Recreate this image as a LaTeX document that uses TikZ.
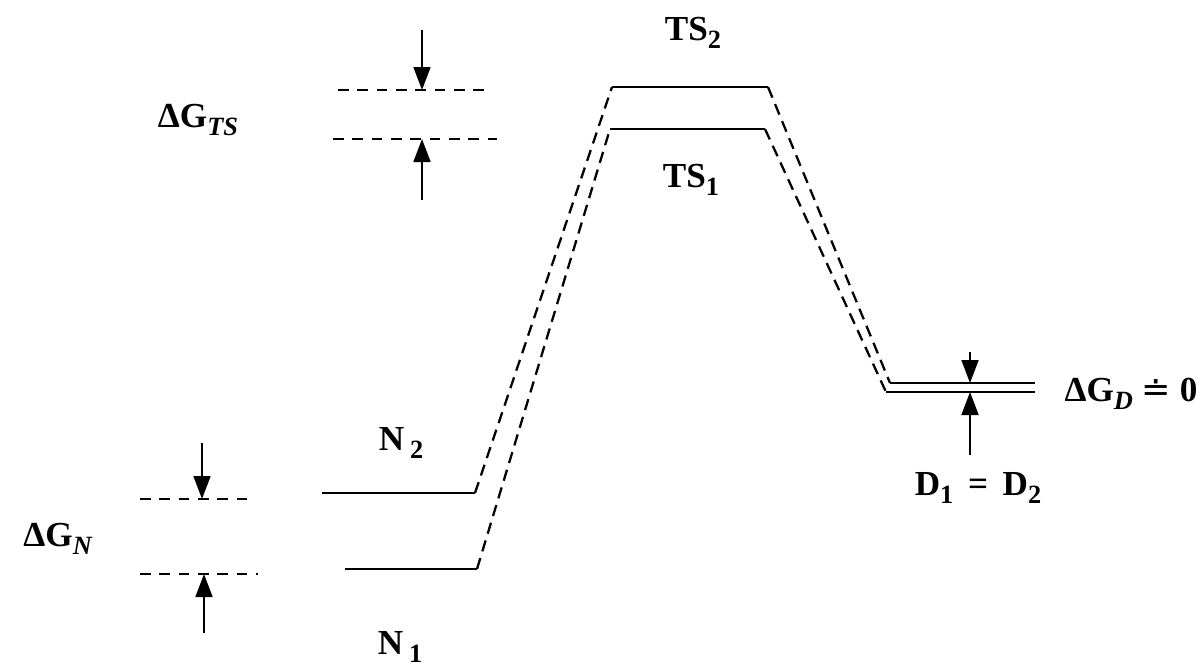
\documentclass[tikz,border=0pt]{standalone}
\usepackage{fontspec}
\setmainfont{Liberation Serif}
\newfontfamily\symfont{DejaVu Sans}
\usepackage{tikz}
\usetikzlibrary{arrows.meta, positioning}
\newcommand{\lowsub}[1]{\raisebox{-0.5ex}{\fontsize{15}{16}\selectfont #1}}
\tikzset{
  level/.style={
    line width=1.2pt
  },
  link/.style={
    line width=1.3pt,
    dash pattern=on 6.5pt off 4pt
  },
  guide/.style={
    line width=0.8pt,
    dash pattern=on 6pt off 5pt
  },
  arrow/.style={
    -{Triangle[length=4.6mm,width=3.4mm]},
    line width=1pt
  },
  lab/.style={
    font=\fontsize{20}{23}\selectfont\bfseries,
    inner sep=0pt
  }
}

\begin{document}
\begin{tikzpicture}[x=0.02cm, y=-0.02cm]
  \useasboundingbox (0,0) rectangle (1202,670);

  % Niveaux
  \coordinate (n2l) at (322,493);  \coordinate (n2r) at (475,493);
  \coordinate (n1l) at (345,569);  \coordinate (n1r) at (477,569);
  \coordinate (ts2l) at (612,87);  \coordinate (ts2r) at (768,87);
  \coordinate (ts1l) at (610,129); \coordinate (ts1r) at (765,129);
  \coordinate (d2l) at (890,383);  \coordinate (d2r) at (1035,383);
  \coordinate (d1l) at (886,392);  \coordinate (d1r) at (1035,392);

  \draw[level] (n2l) -- (n2r);
  \draw[level] (n1l) -- (n1r);
  \draw[level] (ts2l) -- (ts2r);
  \draw[level] (ts1l) -- (ts1r);
  \draw[level] (d2l) -- (d2r);
  \draw[level] (d1l) -- (d1r);

  % Chemins
  \draw[link] (n2r) -- (ts2l);
  \draw[link] (n1r) -- (ts1l);
  \draw[link] (ts2r) -- (d2l);
  \draw[link] (ts1r) -- (d1l);

  % Etiquettes
  \node[lab] (ts2) at (693,33) {TS\lowsub{2}};
  \node[lab] (ts1) at (691,180) {TS\lowsub{1}};
  \node[lab] (n2) at (401,443) {N\,\lowsub{2}};
  \node[lab] (n1) at (400,647) {N\,\lowsub{1}};
  \node[lab] (dd) at (978,488) {D\lowsub{1}\, = \,D\lowsub{2}};
  \node[lab] (dgd) at (1131,394) {ΔG\lowsub{\textit{D}} {\symfont\mdseries ≐} 0};
  \node[lab] (dgts) at (198,120) {ΔG\lowsub{\textit{TS}}};
  \node[lab] (dgn) at (58,539) {ΔG\lowsub{\textit{N}}};

  % Ecarts TS
  \coordinate (gts2l) at (338,90);  \coordinate (gts2r) at (492,90);
  \coordinate (gts1l) at (333,139); \coordinate (gts1r) at (497,139);
  \draw[guide] (gts2l) -- (gts2r);
  \draw[guide] (gts1l) -- (gts1r);
  \coordinate (ats2) at (422,30);  \coordinate (bts2) at (422,90);
  \coordinate (ats1) at (422,200); \coordinate (bts1) at (422,139);
  \draw[arrow] (ats2) -- (bts2);
  \draw[arrow] (ats1) -- (bts1);

  % Ecarts N
  \coordinate (gn2l) at (140,499); \coordinate (gn2r) at (250,499);
  \coordinate (gn1l) at (140,574); \coordinate (gn1r) at (258,574);
  \draw[guide] (gn2l) -- (gn2r);
  \draw[guide] (gn1l) -- (gn1r);
  \coordinate (an2) at (202,443); \coordinate (bn2) at (202,499);
  \coordinate (an1) at (204,633); \coordinate (bn1) at (204,574);
  \draw[arrow] (an2) -- (bn2);
  \draw[arrow] (an1) -- (bn1);

  % Ecart D
  \coordinate (ad2) at (970,352); \coordinate (ad1) at (970,455);
  \draw[arrow] (ad2) -- (d2l -| ad2);
  \draw[arrow] (ad1) -- (d1l -| ad1);
\end{tikzpicture}
\end{document}
